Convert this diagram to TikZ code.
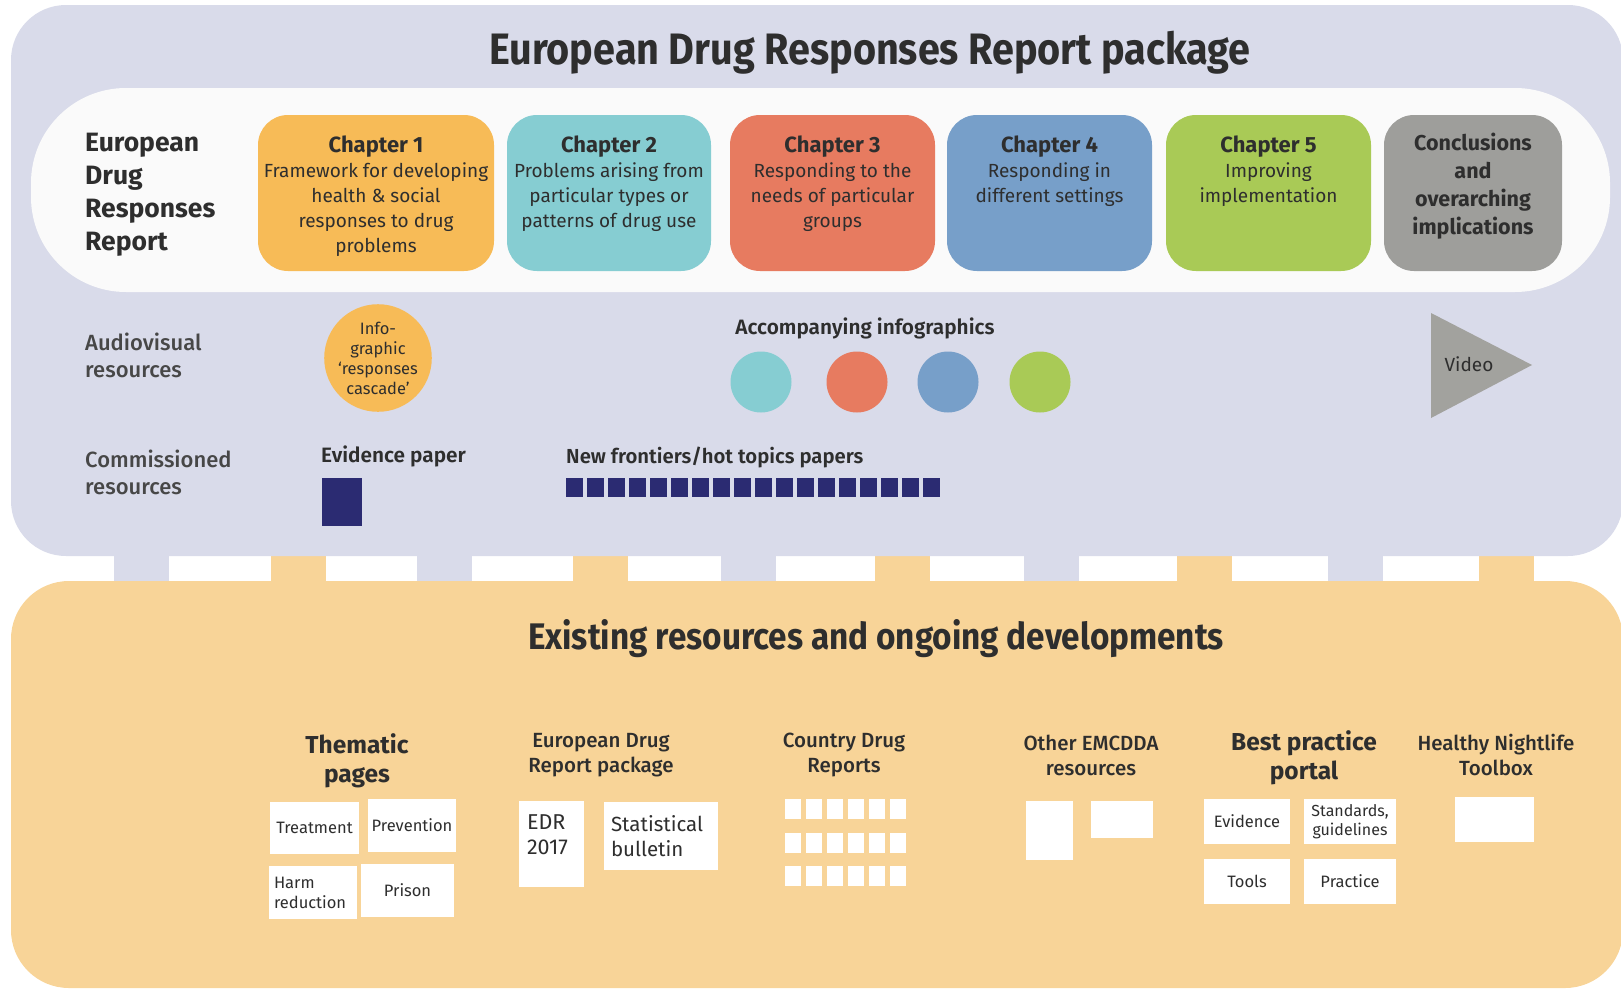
\documentclass[tikz,border=0pt]{standalone}
\usepackage{fontspec}
\setmainfont{Fira Sans}
\newfontfamily\headfont[FakeStretch=0.9]{Fira Sans}
\newfontfamily\medfont{Fira Sans Medium}
\newfontfamily\semifont{Fira Sans SemiBold}
\usetikzlibrary{positioning}
\definecolor{panelblue}{HTML}{D9DBEA}
\definecolor{innerwhite}{HTML}{FAFAFA}
\definecolor{panelorange}{HTML}{F8D498}
\definecolor{chone}{HTML}{F7BB57}
\definecolor{chtwo}{HTML}{86CDD2}
\definecolor{chthree}{HTML}{E77B60}
\definecolor{chfour}{HTML}{779FC9}
\definecolor{chfive}{HTML}{A9CA56}
\definecolor{chconcl}{HTML}{9E9E9B}
\definecolor{navy}{HTML}{2B2B72}
\definecolor{videogray}{HTML}{A2A29E}
\definecolor{txtdark}{HTML}{2E2E2E}
\definecolor{txtgray}{HTML}{474747}
\begin{document}
\begin{tikzpicture}[x=1pt, y=-1pt, text=txtdark,
    chapbox/.style = {rounded corners = 30pt, minimum height = 156pt, inner sep = 0pt},
    chaptext/.style = {anchor = north, align = center, inner sep = 0pt,
      font = \fontsize{19}{25}\selectfont},
    rowlabel/.style = {anchor = west, align = left, inner sep = 0pt, text = txtgray,
      font = \medfont\fontsize{22}{27}\selectfont},
    wbox/.style = {fill = white, inner sep = 0pt},
    boxtext/.style = {align = center, font = \fontsize{16.5}{20}\selectfont},
    grouplabel/.style = {align = center, inner sep = 0pt, font = \medfont\fontsize{20.5}{25}\selectfont},
    groupbold/.style = {align = center, inner sep = 0pt, font = \bfseries\fontsize{24.5}{29}\selectfont}]
  \useasboundingbox (0,0) rectangle (1621,988);
  % the two panels and the strip between them
  \foreach \k in {0,...,4} {
    \fill [panelblue] (114+303.4*\k,550) rectangle +(55,36);
    \fill [panelorange] (271+302.1*\k,550) rectangle +(55,36);
  }
  \fill [panelblue, rounded corners = 55pt] (11,5) rectangle (1623,556);
  \fill [panelorange, rounded corners = 58pt] (11,581) rectangle (1623,988);
  \fill [innerwhite, rounded corners = 95pt] (31,88) rectangle (1610,292);
  \node [font = \headfont\bfseries\fontsize{44}{44}\selectfont] (title) at (870,53)
    {European Drug Responses Report package};
  % report row
  \node [anchor = west, align = left, inner sep = 0pt,
    font = \bfseries\fontsize{26.5}{33}\selectfont] (report) at (85,195)
    {European\\Drug\\Responses\\Report};
  \foreach \name/\x/\w/\col in {ch1/376/236/chone, ch2/609/204/chtwo, ch3/832.5/205/chthree,
      ch4/1049.5/205/chfour, ch5/1268.5/205/chfive, concl/1473/178/chconcl}
    \node [chapbox, fill = \col, minimum width = \w pt] (\name) at (\x,193) {};
  \node [chaptext] (ch1t) at ([yshift = -21pt]ch1.north)
    {{\bfseries\fontsize{22}{25}\selectfont Chapter 1}\\Framework for developing\\health \& social\\responses to drug\\problems};
  \node [chaptext] (ch2t) at ([yshift = -21pt]ch2.north)
    {{\bfseries\fontsize{22}{25}\selectfont Chapter 2}\\Problems arising from\\particular types or\\patterns of drug use};
  \node [chaptext] (ch3t) at ([yshift = -21pt]ch3.north)
    {{\bfseries\fontsize{22}{25}\selectfont Chapter 3}\\Responding to the\\needs of particular\\groups};
  \node [chaptext] (ch4t) at ([yshift = -21pt]ch4.north)
    {{\bfseries\fontsize{22}{25}\selectfont Chapter 4}\\Responding in\\different settings};
  \node [chaptext] (ch5t) at ([yshift = -21pt]ch5.north)
    {{\bfseries\fontsize{22}{25}\selectfont Chapter 5}\\Improving\\implementation};
  \node [chaptext, font = \bfseries\fontsize{21.5}{28}\selectfont] (conclt) at ([yshift = -18pt]concl.north)
    {Conclusions\\and\\overarching\\implications};
  % audiovisual row
  \node [rowlabel] (av) at (85,355) {Audiovisual\\resources};
  \node [circle, fill = chone, minimum size = 104pt, inner sep = 0pt, align = center,
    font = \fontsize{16.5}{20}\selectfont] (cascade) at (378,358)
    {Info-\\graphic\\‘responses\\cascade’};
  \node [inner sep = 0pt, font = \semifont\fontsize{20.8}{24}\selectfont] (infolab) at (865,328)
    {Accompanying infographics};
  \foreach \name/\x/\col in {info2/761/chtwo, info3/857/chthree, info4/948/chfour, info5/1040/chfive}
    \node [circle, fill = \col, minimum size = 61pt, inner sep = 0pt] (\name) at (\x,382) {};
  \fill [videogray] (1431,313) -- (1532,365) -- (1431,418) -- cycle;
  \node [inner sep = 0pt, font = \fontsize{19}{22}\selectfont] (video) at (1469,364) {Video};
  % commissioned row
  \node [rowlabel] (comm) at (85,472) {Commissioned\\resources};
  \node [anchor = west, inner sep = 0pt, font = \semifont\fontsize{20.8}{24}\selectfont] (evlab) at (321,456)
    {Evidence paper};
  \fill [navy] (322,478) rectangle (362,526);
  \node [anchor = west, inner sep = 0pt, font = \semifont\fontsize{20.3}{24}\selectfont] (hotlab) at (566,457)
    {New frontiers/hot topics papers};
  \foreach \i in {0,...,17}
    \fill [navy] (566+21*\i,478) rectangle +(17,19);
  % existing resources
  \node [font = \headfont\bfseries\fontsize{37}{37}\selectfont] (existing) at (876,639)
    {Existing resources and ongoing developments};
  \node [groupbold] (thematic) at (357,761) {Thematic\\pages};
  \node [wbox, minimum width = 89pt, minimum height = 52pt, boxtext] (treat) at (314.5,828) {Treatment};
  \node [wbox, minimum width = 88pt, minimum height = 53pt, boxtext] (prev) at (412,825.5) {Prevention};
  \node [wbox, minimum width = 88pt, minimum height = 53pt, boxtext, align = left,
    text width = 78pt] (harm) at (313,892.5) {Harm\\reduction};
  \node [wbox, minimum width = 93pt, minimum height = 53pt, boxtext] (prison) at (407.5,890.5) {Prison};
  \node [grouplabel] (edrlab) at (601,755) {European Drug\\Report package};
  \node [wbox, minimum width = 65pt, minimum height = 86pt] (edr) at (551.5,844) {};
  \node [anchor = north west, align = left, inner sep = 0pt, font = \fontsize{21.5}{25}\selectfont]
    (edrt) at ([xshift = 8pt, yshift = -14pt]edr.north west) {EDR\\2017};
  \node [wbox, minimum width = 114pt, minimum height = 68pt, align = left, text width = 100pt,
    font = \fontsize{20.5}{25}\selectfont] (stat) at (661,836) {Statistical\\bulletin};
  \node [grouplabel] (cdrlab) at (844,755) {Country Drug\\Reports};
  \foreach \r in {0,1,2}
    \foreach \i in {0,...,5}
      \fill [white] (785+21*\i,799+33.5*\r) rectangle +(16,20);
  \node [grouplabel] (otherlab) at (1091,755) {Other EMCDDA\\resources};
  \node [wbox, minimum width = 47pt, minimum height = 59pt] (other1) at (1049.5,830.5) {};
  \node [wbox, minimum width = 62pt, minimum height = 37pt] (other2) at (1122,819.5) {};
  \node [groupbold] (bestlab) at (1304,758) {Best practice\\portal};
  \node [wbox, minimum width = 86pt, minimum height = 45pt, boxtext] (evid) at (1247,821.5) {Evidence};
  \node [wbox, minimum width = 92pt, minimum height = 45pt, boxtext,
    font = \fontsize{16}{18.5}\selectfont] (stand) at (1350,821.5) {Standards,\\guidelines};
  \node [wbox, minimum width = 86pt, minimum height = 45pt, boxtext] (tools) at (1247,881.5) {Tools};
  \node [wbox, minimum width = 92pt, minimum height = 45pt, boxtext] (pract) at (1350,881.5) {Practice};
  \node [grouplabel] (nightlab) at (1496,755) {Healthy Nightlife\\Toolbox};
  \node [wbox, minimum width = 79pt, minimum height = 45pt] (night) at (1494.5,819.5) {};
\end{tikzpicture}
\end{document}
